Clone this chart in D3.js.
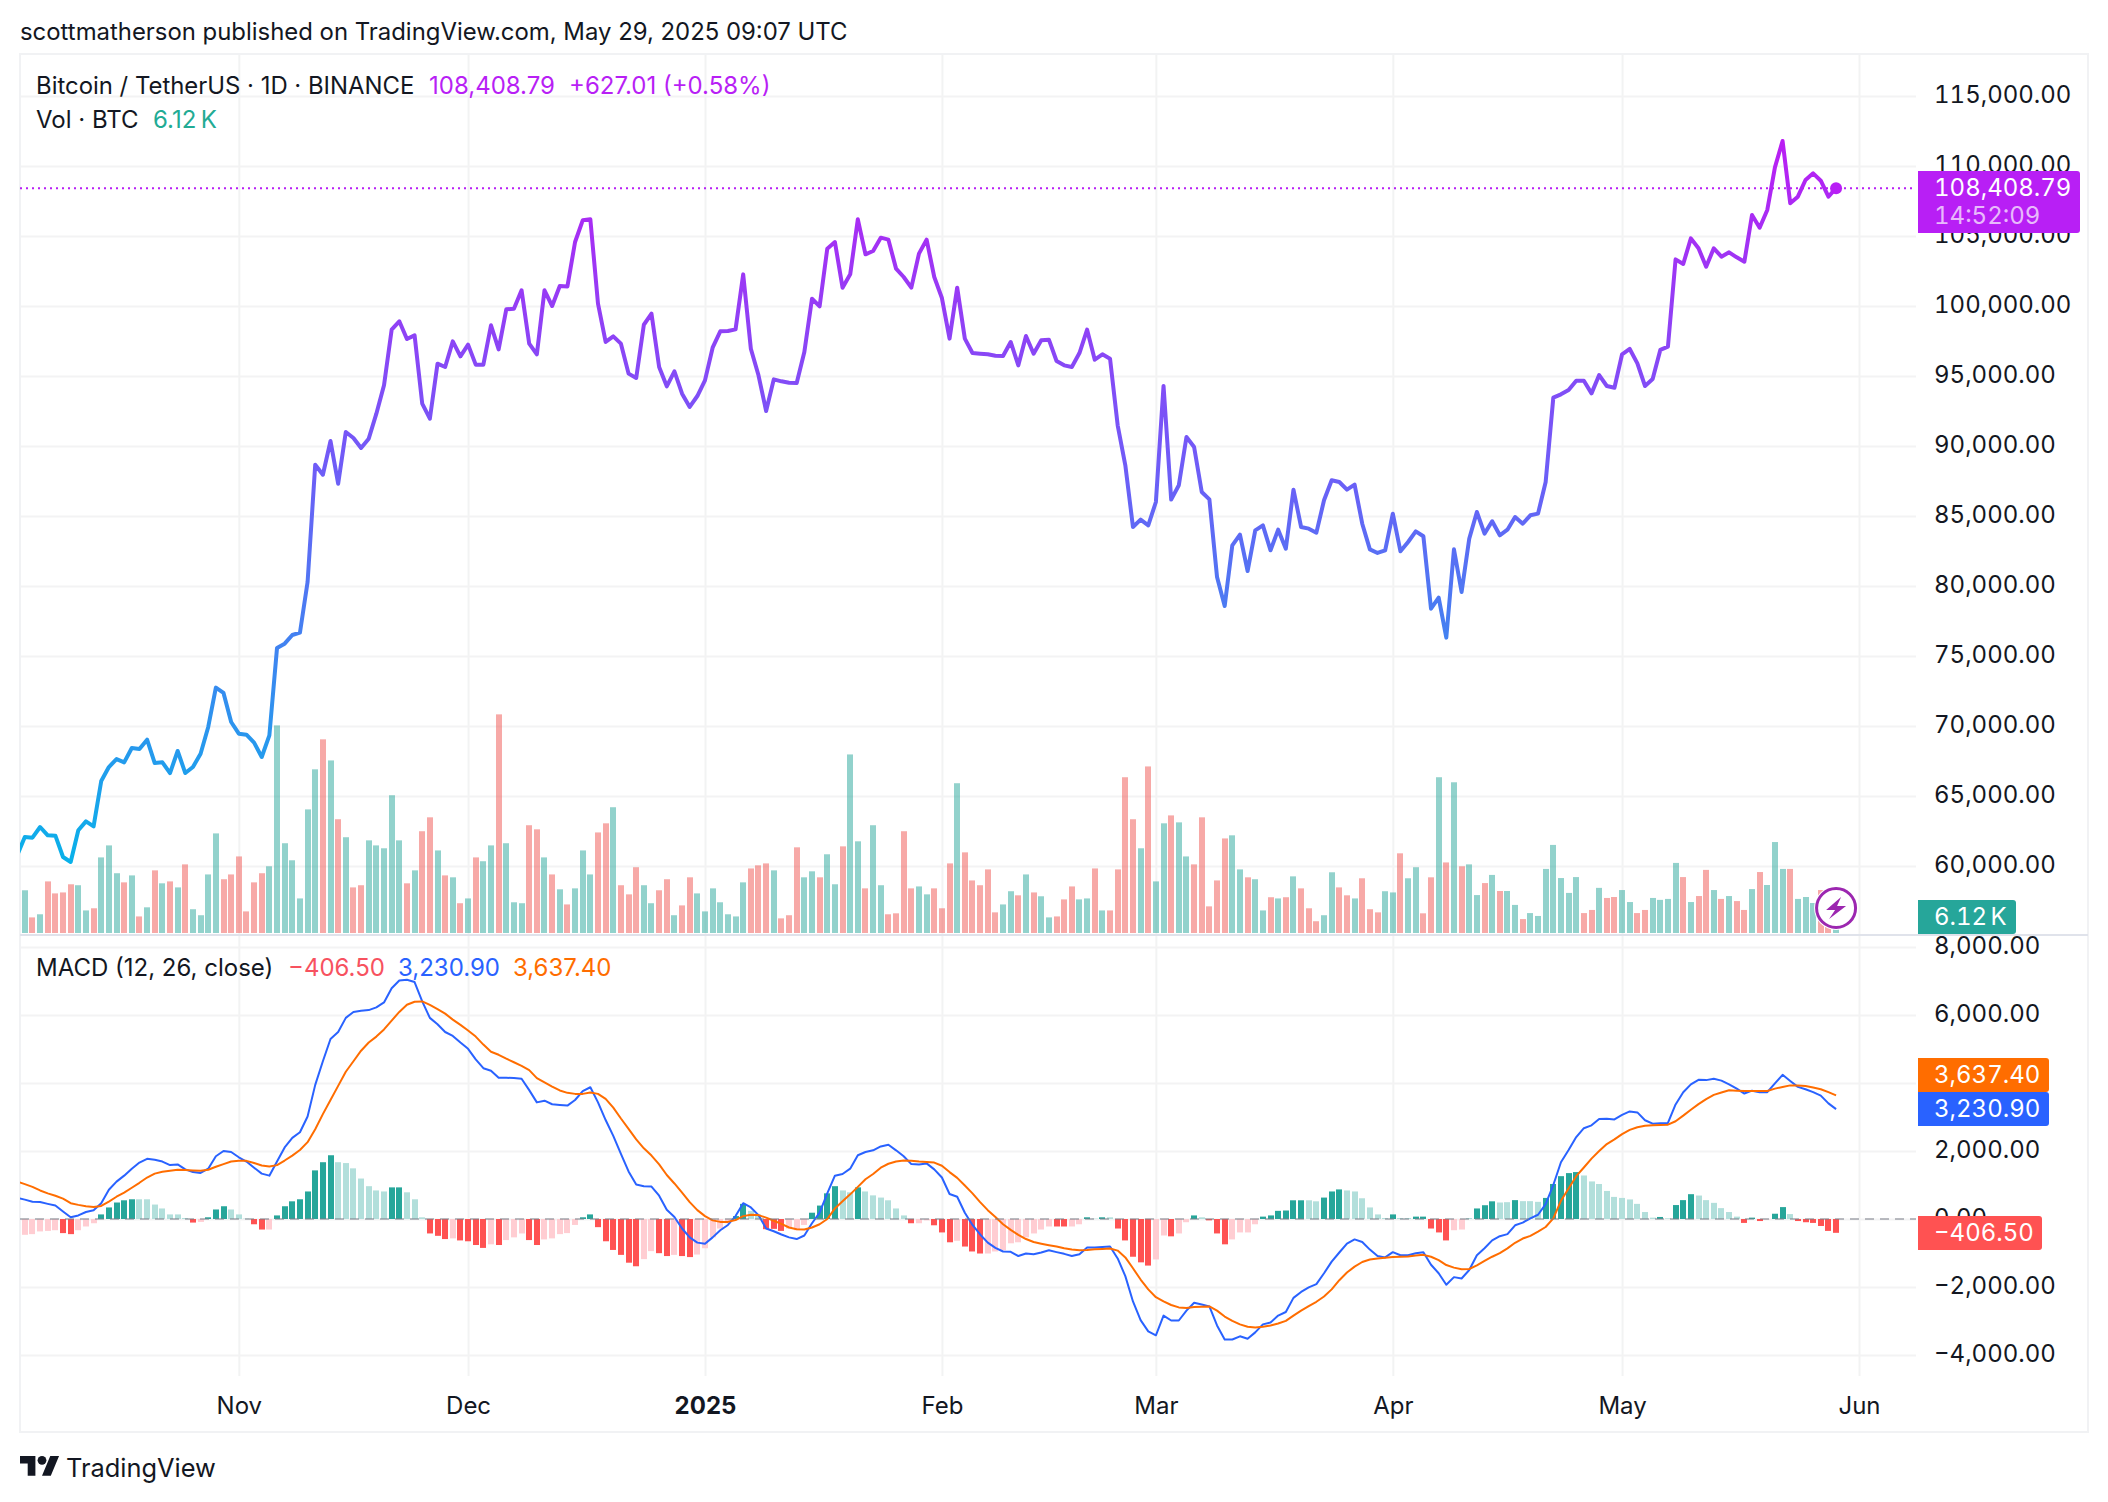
<!DOCTYPE html>
<html>
<head>
<meta charset="utf-8">
<title>BTCUSDT</title>
<script src="https://cdn.jsdelivr.net/npm/d3@7"></script>
<style>
  html, body { margin: 0; background: #fff; }
  svg { display: block; font-family: Inter, sans-serif; }
  text { fill: #131722; }
</style>
</head>
<body>
<div id="chart"></div>
<script>
// daily closes, starts Oct 3 2024 (that first day is cut off by the left edge)
const closes = [
  60760, 62070, 62025, 62785, 62190, 62165, 60640, 60285, 62550, 63190, 62830, 66070, 67070, 67640,
  67405, 68430, 68360, 69025, 67355, 67405, 66640, 68215, 66640, 67070, 68020, 69930, 72740, 72360, 70285,
  // nov
  69450, 69380, 68810, 67785, 69335, 75570, 75880, 76500, 76665, 80285, 88665, 87950, 90355, 87310, 91000,
  90570, 89860, 90525, 92310, 94335, 98310, 98905, 97640, 97905, 93025, 91950, 95880, 95640, 97475, 96405,
  // dec
  97240, 95810, 95810, 98620, 96900, 99760, 99810, 101120, 97310, 96550, 101120, 100000, 101430, 101400, 104570,
  106120, 106190, 100170, 97430, 97830, 97310, 95170, 94860, 98660, 99450, 95640, 94260, 95330, 93740, 92790, 93570,
  // jan
  94690, 97020, 98190, 98215, 98330, 102260, 96950, 95050, 92500, 94760, 94620, 94520, 94500, 96715, 100520,
  99975, 104095, 104570, 101310, 102260, 106190, 103690, 103930, 104880, 104740, 102670, 102070, 101310, 103740, 104740, 102070,
  // feb
  100570, 97670, 101310, 97670, 96640, 96595, 96550, 96450, 96430, 97430, 95760, 97860, 96595, 97550,
  97595, 96070, 95760, 95640, 96640, 98310, 96165, 96550, 96240, 91480, 88620, 84215, 84740, 84335,
  // mar
  86000, 94290, 86170, 87195, 90640, 89930, 86715, 86190, 80640, 78570, 82905, 83665, 81070, 83975, 84335, 82550,
  84025, 82665, 86880, 84215, 84095, 83810, 86120, 87550, 87430, 86880, 87240, 84450, 82620, 82360, 82550,
  // apr
  85165, 82480, 83145, 83905, 83550, 78380, 79165, 76310, 82620, 79570, 83380, 85285, 83740, 84620, 83620,
  84020, 84930, 84450, 85050, 85170, 87430, 93450, 93690, 94000, 94665, 94665, 93760, 95070, 94285, 94165,
  // may
  96550, 96930, 95905, 94285, 94785, 96860, 97095, 103330, 103000, 104830, 104120, 102810, 104120, 103525, 103835,
  103475, 103165, 106500, 105595, 106860, 109905, 111785, 107335, 107810, 109000, 109475, 108950, 107810, 108408.79
];

// volume in thousands of BTC, starts Oct 4
const volumes = [
  17.8, 6.5, 7.8, 21.5, 16.5, 16.9, 20.3, 19.9, 9.4, 10.3, 31.5, 36.5, 24.9, 21.1, 24.0, 6.9, 10.7, 26.1, 20.7, 21.5,
  19.0, 28.6, 9.9, 7.4, 24.4, 41.5, 22.4, 24.4, 31.9, 9.0, 21.1, 24.9, 27.8, 86.5, 37.4, 30.3, 14.4, 51.5, 68.2, 80.7,
  71.9, 47.4, 39.9, 19.0, 19.9, 38.6, 36.5, 35.3, 57.4, 38.6, 20.7, 26.1, 42.4, 48.2, 34.4, 24.0, 23.2, 12.4, 14.4, 31.5,
  29.9, 36.5, 91.1, 37.4, 12.8, 12.4, 44.9, 43.2, 31.5, 24.4, 18.2, 11.9, 18.6, 34.4, 24.4, 41.9, 45.7, 52.4, 19.9, 16.1,
  27.4, 19.9, 12.4, 17.8, 22.4, 7.4, 11.5, 23.2, 16.5, 9.0, 18.6, 12.8, 7.8, 6.9, 21.1, 26.9, 28.2, 29.0, 26.1, 6.1,
  7.4, 35.7, 23.2, 25.7, 23.2, 32.8, 20.3, 36.1, 74.4, 38.2, 18.6, 44.9, 19.9, 7.8, 8.2, 42.4, 18.6, 19.4, 16.1, 18.6,
  10.3, 29.0, 62.4, 33.6, 21.9, 19.9, 26.5, 8.6, 11.9, 17.4, 15.7, 24.4, 16.9, 15.3, 6.5, 6.9, 14.0, 19.4, 14.0, 14.4,
  26.9, 9.4, 9.4, 26.5, 64.9, 47.4, 35.3, 69.4, 21.5, 45.7, 49.0, 46.1, 31.9, 28.6, 48.2, 11.1, 21.9, 39.4, 40.7, 26.5,
  23.2, 22.4, 9.4, 14.9, 14.4, 14.9, 23.6, 18.6, 10.3, 4.9, 7.4, 25.3, 19.0, 15.7, 14.4, 22.8, 9.9, 8.6, 17.4, 16.9,
  33.2, 22.8, 27.4, 8.2, 23.2, 64.9, 29.4, 62.8, 27.8, 28.6, 15.8, 20.8, 24.2, 17.5, 17.5, 11.7, 5.8, 8.3, 7.1, 26.7,
  36.7, 22.9, 16.7, 23.3, 8.3, 9.6, 18.8, 14.6, 15.0, 17.9, 12.9, 8.3, 9.6, 14.6, 13.8, 14.2, 29.2, 23.3, 12.9, 15.4,
  26.3, 17.9, 14.2, 15.4, 13.3, 9.6, 18.3, 25.4, 20.0, 37.9, 26.7, 26.7, 14.2, 15.0, 12.5, 17.9, 8.0, 6.12
];
// 1 = green bar, 0 = red bar, ten days per block
const volumeUp = ("1010000110 1110101010 1011110000 0011111110 1010011111 0100101010 1101110010 1011100100 " +
  "0110010011 1111100010 0011011011 0110000110 0010000011 0101100011 0100001011 0110000011 " +
  "0110101000 1100100011 0110010101 1010110111 1111001001 1001111010 0101001011 10111001").replace(/ /g, "");

// macd line, starts Oct 3
const macdLine = [
  620, 570, 510, 500, 445, 395, 220, 50, 105, 205, 260, 465, 860, 1100, 1275, 1480, 1660, 1770, 1740, 1690,
  1585, 1605, 1460, 1380, 1355, 1480, 1845, 2000, 1970, 1815, 1690, 1510, 1335, 1275, 1690, 2105, 2385, 2550, 3015, 3945,
  4640, 5295, 5500, 5915, 6090, 6125, 6145, 6225, 6370, 6785, 7015, 7035, 6970, 6400, 5915, 5730, 5500, 5385, 5190, 5005,
  4695, 4435, 4360, 4155, 4155, 4145, 4125, 3790, 3430, 3480, 3375, 3355, 3335, 3500, 3760, 3875, 3430, 2910, 2445, 1915,
  1400, 1015, 965, 955, 685, 270, 60, -280, -540, -695, -725, -540, -330, -175, 85, 465, 340, 115, -280, -360,
  -455, -540, -590, -485, -125, 185, 755, 1275, 1325, 1480, 1875, 1970, 2020, 2135, 2185, 2020, 1845, 1615, 1605, 1635,
  1460, 1220, 735, 655, 185, -175, -455, -695, -850, -955, -965, -1090, -1015, -1035, -985, -920, -975, -1025, -1090, -1035,
  -840, -840, -820, -810, -1160, -1680, -2425, -2975, -3305, -3420, -2840, -2985, -2985, -2695, -2465, -2515, -2570, -3130, -3545, -3545,
  -3450, -3520, -3335, -3100, -3045, -2840, -2735, -2320, -2145, -2010, -1915, -1595, -1255, -985, -725, -600, -675, -900, -1090, -1130,
  -975, -1065, -1065, -1005, -975, -1345, -1595, -1935, -1710, -1750, -1500, -1065, -860, -630, -505, -445, -185, -105, 20, 125,
  435, 1000, 1670, 2030, 2410, 2670, 2755, 2940, 2950, 2930, 3060, 3165, 3135, 2905, 2805, 2815, 2825, 3370, 3730, 3960,
  4095, 4085, 4125, 4070, 3960, 3835, 3690, 3775, 3730, 3730, 3990, 4240, 4060, 3885, 3815, 3730, 3630, 3400, 3230.9
];

// signal line, starts Oct 3
const signalLine = [
  1100, 1025, 945, 840, 755, 685, 600, 465, 415, 375, 350, 385, 510, 655, 775, 920, 1065, 1220, 1335, 1390,
  1420, 1450, 1440, 1430, 1420, 1450, 1535, 1615, 1690, 1710, 1710, 1645, 1575, 1545, 1585, 1720, 1865, 2030, 2260, 2640,
  3085, 3500, 3915, 4330, 4640, 4950, 5190, 5365, 5575, 5835, 6090, 6300, 6390, 6400, 6300, 6175, 6040, 5865, 5710, 5545,
  5365, 5130, 4920, 4830, 4715, 4610, 4505, 4380, 4145, 4020, 3895, 3780, 3710, 3680, 3680, 3720, 3680, 3535, 3275, 2955,
  2650, 2340, 2080, 1865, 1605, 1295, 1045, 775, 495, 260, 85, -40, -85, -85, -30, 85, 125, 115, 40, -50,
  -145, -250, -300, -310, -250, -155, 0, 310, 520, 725, 945, 1170, 1325, 1510, 1625, 1690, 1720, 1710, 1690, 1680,
  1660, 1565, 1380, 1210, 985, 755, 495, 260, 60, -155, -320, -465, -590, -675, -725, -770, -810, -860, -900, -920,
  -910, -890, -880, -870, -930, -1130, -1450, -1780, -2070, -2300, -2425, -2530, -2600, -2620, -2590, -2580, -2570, -2695, -2870, -2995,
  -3100, -3170, -3190, -3170, -3130, -3075, -2995, -2840, -2695, -2560, -2435, -2280, -2070, -1800, -1575, -1400, -1265, -1190, -1160, -1140,
  -1120, -1110, -1100, -1075, -1055, -1110, -1210, -1355, -1430, -1480, -1470, -1365, -1235, -1110, -1005, -865, -700, -575, -495, -370,
  -235, 20, 535, 895, 1260, 1515, 1775, 2000, 2205, 2340, 2495, 2620, 2700, 2740, 2755, 2765, 2775, 2875, 3040, 3215,
  3380, 3525, 3650, 3720, 3785, 3775, 3765, 3765, 3765, 3765, 3835, 3885, 3930, 3930, 3910, 3865, 3815, 3730, 3637.4
];

// histogram, starts Oct 4
const macdHist = [
  -465, -445, -365, -350, -330, -415, -445, -330, -220, -125, 135, 340, 485, 550, 580, 580, 580, 425, 310, 135,
  135, 30, -105, -85, 50, 280, 375, 280, 135, 10, -155, -310, -310, 105, 375, 520, 580, 810, 1430, 1670,
  1875, 1670, 1645, 1490, 1190, 965, 840, 810, 930, 930, 785, 580, 50, -425, -495, -590, -570, -630, -655, -765,
  -850, -745, -765, -620, -540, -425, -620, -765, -600, -570, -445, -415, -175, 50, 135, -240, -655, -910, -1055, -1285,
  -1390, -1180, -945, -1005, -1090, -1055, -1090, -1120, -1045, -860, -540, -280, -125, 85, 445, 240, 135, -300, -290, -350,
  -280, -330, -175, 185, 395, 755, 965, 840, 785, 930, 810, 695, 630, 550, 310, 105, -125, -125, -40, -185,
  -395, -685, -640, -810, -955, -1015, -1015, -955, -920, -715, -685, -540, -425, -310, -220, -220, -220, -220, -155, 50,
  10, 50, 50, -280, -630, -1110, -1275, -1370, -1190, -485, -510, -425, -95, 105, 50, -40, -425, -745, -600, -395,
  -395, -155, 70, 105, 240, 250, 550, 550, 550, 520, 630, 810, 870, 840, 810, 610, 340, 135, 30, 135,
  30, 30, 70, 70, -280, -395, -630, -330, -310, 10, 310, 405, 520, 485, 495, 555, 525, 525, 505, 620,
  1030, 1260, 1350, 1380, 1280, 1105, 1030, 825, 650, 620, 575, 445, 205, 40, 60, 20, 410, 555, 730, 690,
  555, 475, 320, 205, 70, -115, 40, -60, -10, 155, 350, 145, -60, -95, -115, -205, -350, -406.5
];
// 1 = strong colour (bar growing away from zero), 0 = pale
const histStrong = ("0000011000 1111100000 0010111000 1101111111 1000000011 0001110111 1010001100 0001111111 " +
  "1001101100 0001100111 0001111001 0000001001 1101110000 0000011001 0101111100 1001011100 " +
  "0011111100 1110000001 0011111001 1110010001 1111000000 0000101110 0000011101 10111111").replace(/ /g, "");

const priceTicks = [115000, 110000, 105000, 100000, 95000, 90000, 85000, 80000, 75000, 70000, 65000, 60000];
const macdTicks = [8000, 6000, 4000, 2000, 0, -2000, -4000];
const monthTicks = ["2024-11-01", "2024-12-01", "2025-01-01", "2025-02-01", "2025-03-01", "2025-04-01", "2025-05-01", "2025-06-01"].map(d => new Date(d));

const width = 2108, height = 1502;
const plotLeft = 20, plotRight = 1916, frameRight = 2088, plotTop = 54, frameBottom = 1432;
const sepY = 935, gridBottom = 1376;

const dayList = d3.utcDay.range(new Date("2024-10-03"), new Date("2025-05-30"));
const barDays = dayList.slice(1);

const x = d3.scaleUtc().domain([monthTicks[0], monthTicks[7]]).range([238.8, 1859]);
const y = d3.scaleLinear().domain([115000, 60000]).range([96, 866]);
const yVol = d3.scaleLinear().domain([0, 100]).range([933, 693]);
const yMacd = d3.scaleLinear().domain([8000, -4000]).range([947, 1355]);

const svg = d3.select("#chart").append("svg").attr("width", width).attr("height", height);

const defs = svg.append("defs");
defs.append("clipPath").attr("id", "clipTop").append("rect")
  .attr("x", plotLeft).attr("y", plotTop).attr("width", plotRight - plotLeft).attr("height", sepY - plotTop - 2);
defs.append("clipPath").attr("id", "clipBottom").append("rect")
  .attr("x", plotLeft).attr("y", sepY + 1).attr("width", plotRight - plotLeft).attr("height", gridBottom - sepY);

const grad = defs.append("linearGradient").attr("id", "priceGrad")
  .attr("gradientUnits", "userSpaceOnUse")
  .attr("x1", 0).attr("x2", 0).attr("y1", y(112000)).attr("y2", y(60000));
grad.append("stop").attr("offset", 0).attr("stop-color", "#bb1df3");
grad.append("stop").attr("offset", 0.45).attr("stop-color", "#6f5cf7");
grad.append("stop").attr("offset", 1).attr("stop-color", "#08b2e9");

const gridColor = "rgba(42,46,57,0.06)";

// month grid + labels
const xAxis = d3.axisBottom(x).tickValues(monthTicks).tickSize(-(gridBottom - plotTop)).tickPadding(21)
  .tickFormat(d => d.getUTCMonth() == 0 ? "2025" : d3.utcFormat("%b")(d));
const gx = svg.append("g").attr("transform", `translate(0,${gridBottom})`).call(xAxis);
gx.select(".domain").remove();
gx.selectAll("line").attr("stroke", gridColor).attr("stroke-width", 2);
gx.selectAll("text").attr("font-family", "Inter, sans-serif").attr("font-size", 24).attr("fill", "#131722")
  .attr("font-weight", d => d.getUTCMonth() == 0 ? 700 : 400);

function valueAxis(scale, ticks) {
  const axis = d3.axisRight(scale).tickValues(ticks).tickSizeInner(-(plotRight - plotLeft)).tickSizeOuter(0).tickPadding(18)
    .tickFormat(d3.format(",.2f"));
  const g = svg.append("g").attr("transform", `translate(${plotRight},0)`).call(axis);
  g.select(".domain").remove();
  g.selectAll("line").attr("stroke", "#f3f3f4").attr("stroke-width", 2);
  g.selectAll("text").attr("font-family", "Inter, sans-serif").attr("font-size", 24).attr("fill", "#131722")
    .attr("dy", ".25em").style("font-variant-numeric", "tabular-nums");
}
valueAxis(y, priceTicks);
valueAxis(yMacd, macdTicks);

// frame
svg.append("rect").attr("x", plotLeft).attr("y", plotTop).attr("width", frameRight - plotLeft).attr("height", frameBottom - plotTop)
  .attr("fill", "none").attr("stroke", "#f1f2f4").attr("stroke-width", 2);

// volume
const topPane = svg.append("g").attr("clip-path", "url(#clipTop)");
topPane.append("g").selectAll("rect").data(volumes).join("rect")
  .attr("x", (d, i) => Math.round(x(barDays[i])) - 3)
  .attr("width", 6)
  .attr("y", d => yVol(d))
  .attr("height", d => yVol(0) - yVol(d))
  .attr("fill", (d, i) => volumeUp[i] == "1" ? "rgba(38,166,154,0.5)" : "rgba(239,83,80,0.5)");

// price
const priceLine = d3.line().x((d, i) => x(dayList[i])).y(d => y(d));
topPane.append("path").datum(closes).attr("d", priceLine).attr("fill", "none")
  .attr("stroke", "url(#priceGrad)").attr("stroke-width", 4).attr("stroke-linejoin", "round");

const lastClose = closes[closes.length - 1];
const lastDay = dayList[dayList.length - 1];
svg.append("line").attr("x1", plotLeft).attr("x2", plotRight).attr("y1", y(lastClose)).attr("y2", y(lastClose))
  .attr("stroke", "#b81ff5").attr("stroke-width", 2).attr("stroke-dasharray", "2 4");
svg.append("circle").attr("cx", x(lastDay)).attr("cy", y(lastClose)).attr("r", 6).attr("fill", "#b81ff5");

// pane separator
svg.append("line").attr("x1", plotLeft).attr("x2", frameRight).attr("y1", sepY).attr("y2", sepY)
  .attr("stroke", "#e0e3eb").attr("stroke-width", 2);

// macd pane
const macdPane = svg.append("g").attr("clip-path", "url(#clipBottom)");
macdPane.append("g").selectAll("rect").data(macdHist).join("rect")
  .attr("x", (d, i) => Math.round(x(barDays[i])) - 3)
  .attr("width", 6)
  .attr("y", d => yMacd(Math.max(d, 0)))
  .attr("height", d => Math.abs(yMacd(d) - yMacd(0)))
  .attr("fill", (d, i) => {
    const strong = histStrong[i] == "1";
    if (d >= 0) return strong ? "#26a69a" : "#b2dfdb";
    return strong ? "#ff5252" : "#ffcdd2";
  });
svg.append("line").attr("x1", plotLeft).attr("x2", plotRight).attr("y1", yMacd(0)).attr("y2", yMacd(0))
  .attr("stroke", "rgba(120,123,134,0.5)").attr("stroke-width", 2).attr("stroke-dasharray", "9 6");

const macdPath = d3.line().x((d, i) => x(dayList[i])).y(d => yMacd(d));
macdPane.append("path").datum(macdLine).attr("d", macdPath).attr("fill", "none")
  .attr("stroke", "#2962ff").attr("stroke-width", 2).attr("stroke-linejoin", "round");
macdPane.append("path").datum(signalLine).attr("d", macdPath).attr("fill", "none")
  .attr("stroke", "#ff6d00").attr("stroke-width", 2).attr("stroke-linejoin", "round");

// bolt badge
const badge = svg.append("g").attr("transform", `translate(${x(lastDay)},908)`);
badge.append("circle").attr("r", 22).attr("fill", "#fff");
badge.append("circle").attr("r", 19.5).attr("fill", "#fff").attr("stroke", "#9c27b0").attr("stroke-width", 3);
badge.append("path").attr("d", "M5 -11 L-10 2 L-1 2 L-7 11 L10 -2 L1 -2 Z").attr("fill", "#9c27b0");

// axis value tags
function tag(yTop, yBot, xEnd, color, label, textY) {
  svg.append("path")
    .attr("d", `M1918,${yTop} H${xEnd - 3} Q${xEnd},${yTop} ${xEnd},${yTop + 3} V${yBot - 3} Q${xEnd},${yBot} ${xEnd - 3},${yBot} H1918 Z`)
    .attr("fill", color);
  svg.append("text").attr("x", 1934).attr("y", textY).attr("font-size", 24).style("fill", "#fff")
    .style("font-variant-numeric", "tabular-nums").style("word-spacing", "-3px").text(label);
}
const fmt = d3.format(",.2f");
tag(171, 233, 2080, "#b81ff5", fmt(lastClose), 196);
svg.append("text").attr("x", 1934).attr("y", 224).attr("font-size", 24).style("fill", "rgba(255,255,255,0.7)")
  .style("font-variant-numeric", "tabular-nums").text("14:52:09");
tag(900, 934, 2016, "#26a69a", "6.12 K", 925);
tag(1058, 1092, 2049, "#ff6d00", fmt(signalLine[signalLine.length - 1]), 1083);
tag(1092, 1126, 2049, "#2962ff", fmt(macdLine[macdLine.length - 1]), 1117);
tag(1216, 1250, 2042, "#ff5252", fmt(macdHist[macdHist.length - 1]), 1241);

// legends
function label(xp, yp, str, color, size) {
  svg.append("text").attr("x", xp).attr("y", yp).attr("font-size", size || 24).style("fill", color || "#131722").text(str);
}
label(20, 40, "scottmatherson published on TradingView.com, May 29, 2025 09:07 UTC", "#131722", 23.9);
label(36, 94, "Bitcoin / TetherUS \u00b7 1D \u00b7 BINANCE", "#131722", 23.9);
label(429, 94, fmt(lastClose), "#b81ff5");
label(569, 94, "+627.01 (+0.58%)", "#b81ff5");
label(36, 128, "Vol \u00b7 BTC");
label(153, 128, "6.12\u2009K", "#22ab94");
label(36, 976, "MACD (12, 26, close)");
label(288, 976, fmt(macdHist[macdHist.length - 1]), "#f7525f");
label(398, 976, fmt(macdLine[macdLine.length - 1]), "#2962ff");
label(513, 976, fmt(signalLine[signalLine.length - 1]), "#ff6d00");

// footer logo
const logo = svg.append("g").attr("transform", "translate(20,1451.5) scale(1.1)").attr("fill", "#131722");
logo.append("path").attr("d", "M14 22H7V11H0V4h14v18zM28 22h-8l7.5-18h8L28 22z");
logo.append("circle").attr("cx", 20).attr("cy", 8).attr("r", 4);
label(66, 1477, "TradingView", "#131722", 25.4);
</script>
</body>
</html>
